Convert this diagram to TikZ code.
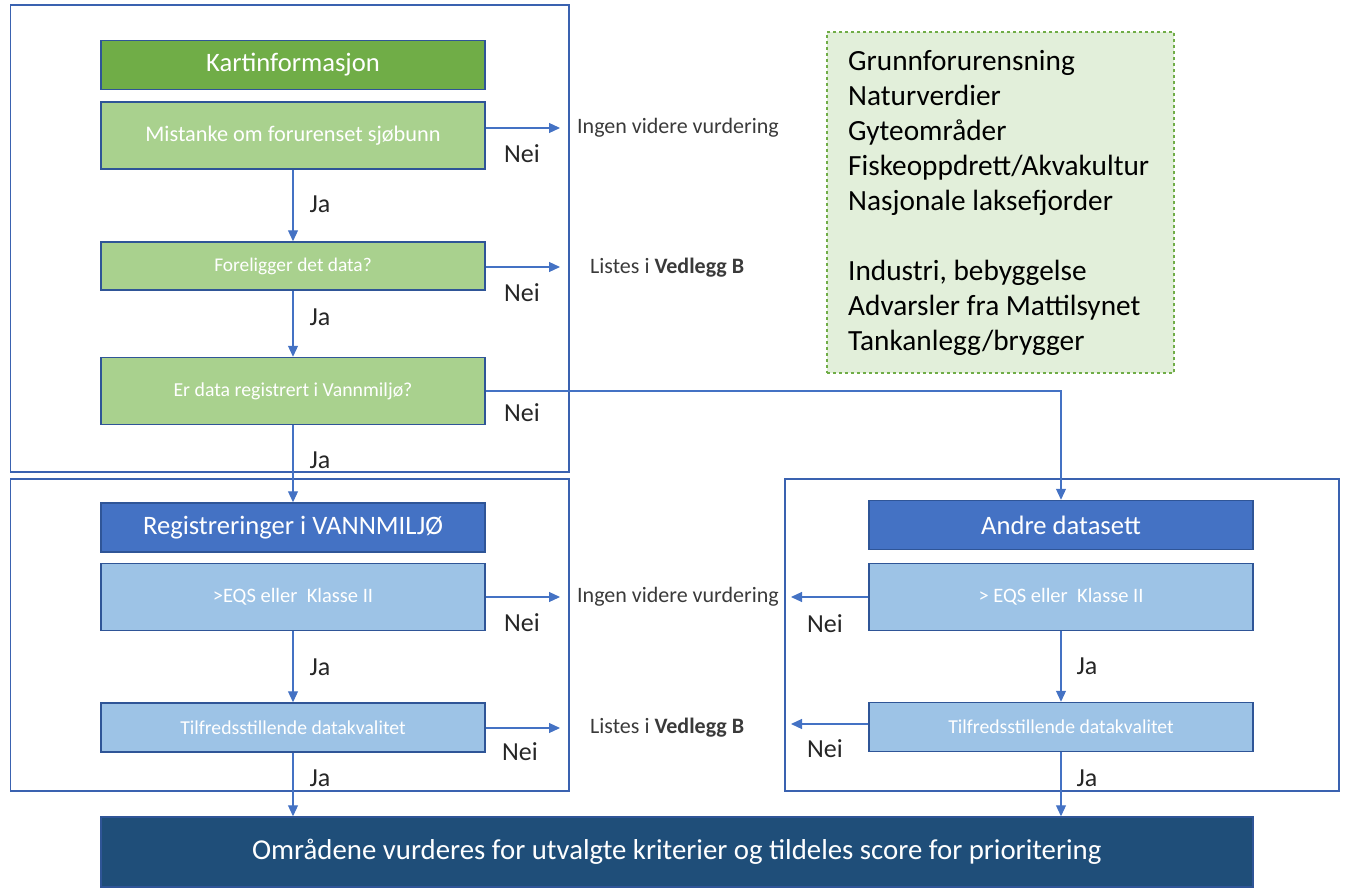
\documentclass[tikz,border=0pt]{standalone}
\usepackage{fontspec}
\setmainfont{Carlito}
\usetikzlibrary{arrows.meta}
\definecolor{dgreen}{HTML}{70AD47}
\definecolor{lgreen}{HTML}{A9D18E}
\definecolor{mblue}{HTML}{4472C4}
\definecolor{lblue}{HTML}{9DC3E6}
\definecolor{navy}{HTML}{1F4E79}
\definecolor{bord}{HTML}{2F5597}
\definecolor{framec}{HTML}{3A62B0}
\definecolor{arrc}{HTML}{4472C4}
\definecolor{notefill}{HTML}{E2EFDA}
\definecolor{labc}{HTML}{262626}
\definecolor{grayc}{HTML}{3A3A3A}
\newcommand{\fs}[1]{\fontsize{#1}{#1}\selectfont}
\begin{document}
\begin{tikzpicture}[x=1pt,y=-1pt,
  box/.style={draw=bord, line width=1.5pt, inner sep=0pt, text=white, minimum width=384pt},
  head/.style={box, minimum height=49pt, font=\fs{26.6}},
  frame/.style={draw=framec, line width=1.8pt},
  arr/.style={draw=arrc, line width=1.2pt, -{Triangle[length=11pt,width=10pt]}},
  lab/.style={text=labc, font=\fs{26}, inner sep=0pt},
  side/.style={text=grayc, font=\fs{22}, inner sep=0pt, anchor=west}]
\useasboundingbox (0,0) rectangle (1345,888);
% frames
\draw[frame] (10.5,5) rectangle (569,472);
\draw[frame] (10.5,479) rectangle (569,791);
\draw[frame] (785,479) rectangle (1339,791);
% note box
\node[draw=dgreen, dashed, line width=1.1pt, fill=notefill, minimum width=347pt, minimum height=341pt, inner sep=0pt] (note) at (1000.5,202.5) {};
\node[anchor=base west, align=left, font=\fontsize{29.3}{35}\selectfont, inner sep=0pt, text=black] (notetext) at (848,350) {Grunnforurensning\\Naturverdier\\Gyteområder\\Fiskeoppdrett/Akvakultur\\Nasjonale laksefjorder\\[35pt]Industri, bebyggelse\\Advarsler fra Mattilsynet\\Tankanlegg/brygger};
% left column
\node[head, fill=dgreen] (kart) at (293,65) {Kartinformasjon};
\node[box, fill=lgreen, minimum height=67pt, font=\fs{22.3}] (mist) at (293,135.5) {Mistanke om forurenset sjøbunn};
\node[box, fill=lgreen, minimum height=48pt, font=\fs{19.4}] (fore) at (293,266) {Foreligger det data?};
\node[box, fill=lgreen, minimum height=67pt, font=\fs{19.8}] (erd) at (293,391) {Er data registrert i Vannmiljø?};
\node[head, fill=mblue] (reg) at (293,527.5) {Registreringer i VANNMILJØ};
\node[box, fill=lblue, minimum height=67pt, font=\fs{20.5}] (eqs1) at (293,597) {>EQS eller\ \ Klasse II};
\node[box, fill=lblue, minimum height=49pt, font=\fs{19.7}] (til1) at (293,727.5) {Tilfredsstillende datakvalitet};
% right column
\node[head, fill=mblue] (andre) at (1061,525) {Andre datasett};
\node[box, fill=lblue, minimum height=67pt, font=\fs{20.5}] (eqs2) at (1061,597) {> EQS eller\ \ Klasse II};
\node[box, fill=lblue, minimum height=49pt, font=\fs{19.7}] (til2) at (1061,727) {Tilfredsstillende datakvalitet};
% final
\node[box, fill=navy, minimum width=1152pt, minimum height=70pt, font=\fs{28.8}] (final) at (676.75,852) {Områdene vurderes for utvalgte kriterier og tildeles score for prioritering};
% side texts
\node[side] (ing1) at (577,128) {Ingen videre vurdering};
\node[side] (lis1) at (590,268) {Listes i \textbf{Vedlegg B}};
\node[side] (ing2) at (577,597) {Ingen videre vurdering};
\node[side] (lis2) at (590,728) {Listes i \textbf{Vedlegg B}};
% coordinates
\coordinate (a1) at (560,128);
\coordinate (a2) at (560,267);
\coordinate (a3) at (560,597);
\coordinate (a4) at (560,728);
\coordinate (b3) at (791,597);
\coordinate (b4) at (791,724);
% arrows
\draw[arr] (mist.east |- a1) -- (a1);
\draw[arr] (fore.east |- a2) -- (a2);
\draw[arr] (eqs1.east |- a3) -- (a3);
\draw[arr] (til1.east |- a4) -- (a4);
\draw[arr] (eqs2.west |- b3) -- (b3);
\draw[arr] (til2.west |- b4) -- (b4);
\draw[arr] (mist) -- (fore);
\draw[arr] (fore) -- (erd);
\draw[arr] (erd) -- (reg);
\draw[arr] (eqs1) -- (til1);
\draw[arr] (eqs2) -- (til2);
\draw[arr] (til1.south) -- (til1.south |- final.north);
\draw[arr] (til2.south) -- (til2.south |- final.north);
\draw[arr] (erd.east) -| (andre.north);
% labels
\node[lab] (n1) at (522,154) {Nei};
\node[lab] (n2) at (522,293) {Nei};
\node[lab] (n3) at (522,413) {Nei};
\node[lab] (n4) at (522,623) {Nei};
\node[lab] (n5) at (520,752) {Nei};
\node[lab] (n6) at (825,624) {Nei};
\node[lab] (n7) at (825,749) {Nei};
\node[lab] (j1) at (320,204) {Ja};
\node[lab] (j2) at (320,317) {Ja};
\node[lab] (j3) at (320,460) {Ja};
\node[lab] (j4) at (320,667) {Ja};
\node[lab] (j5) at (320,778) {Ja};
\node[lab] (j6) at (1087,666) {Ja};
\node[lab] (j7) at (1087,778) {Ja};
\end{tikzpicture}
\end{document}
